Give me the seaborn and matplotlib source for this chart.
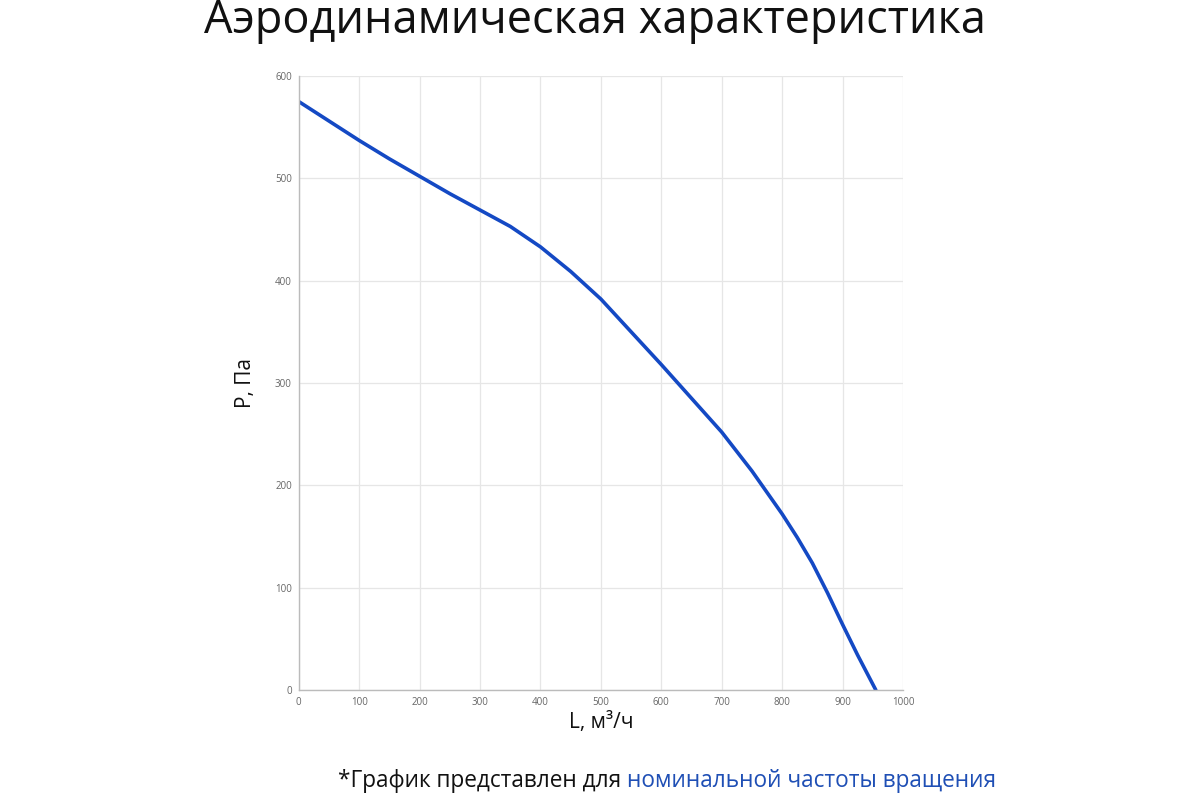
import matplotlib
matplotlib.use("Agg")
import matplotlib.pyplot as plt
import seaborn as sns
import pandas as pd

# ─── Data ────────────────────────────────────────────────────────────────────
flow = [0, 50, 100, 150, 200, 250, 300, 350, 400, 450, 500, 550, 600,
        650, 700, 750, 800, 825, 850, 875, 900, 925, 955]
pressure = [575, 556, 537, 519, 502, 485, 469, 453, 433, 409, 382, 350, 318,
            285, 252, 214, 172, 149, 124, 95, 64, 34, 0]
x_ticks = [0, 100, 200, 300, 400, 500, 600, 700, 800, 900, 1000]
y_ticks = [0, 100, 200, 300, 400, 500, 600]

title = "Аэродинамическая характеристика"
note_plain = "*График представлен для "
note_blue = "номинальной частоты вращения"

LINE = "#1449c4"
NOTE_BLUE = "#1f4fb5"

df = pd.DataFrame({"L": flow, "P": pressure})

sns.set_theme(style="whitegrid")
plt.rcParams["font.family"] = ["Open Sans", "DejaVu Sans"]

fig = plt.figure(figsize=(12, 8), dpi=100)
ax = fig.add_axes([0.249, 0.1375, 0.5035, 0.7675])

sns.lineplot(data=df, x="L", y="P", ax=ax, color=LINE, linewidth=2.6)

ax.set_xlim(0, 1000)
ax.set_ylim(0, 600)
ax.set_xticks(x_ticks)
ax.set_yticks(y_ticks)
ax.tick_params(axis="both", labelsize=7, colors="#666666", length=0, pad=5)
ax.grid(True, color="#e6e6e6", linewidth=0.9)
for side in ["top", "right"]:
    ax.spines[side].set_visible(False)
for side in ["left", "bottom"]:
    ax.spines[side].set_color("#bbbbbb")
    ax.spines[side].set_linewidth(1.0)

ax.set_xlabel("L, м³/ч", fontsize=15, color="#111111", labelpad=3)
ax.set_ylabel("P, Па", fontsize=15, color="#111111", labelpad=14)

fig.text(0.496, 0.959, title, ha="center", va="baseline", fontsize=32.5,
         color="#111111")

# footnote in two colours
fig.canvas.draw()
renderer = fig.canvas.get_renderer()
t1 = fig.text(0, 0.016, note_plain, ha="left", va="baseline", fontsize=16.3,
              color="#111111")
t2 = fig.text(0, 0.016, note_blue, ha="left", va="baseline", fontsize=16.3,
              color=NOTE_BLUE)
w1 = t1.get_window_extent(renderer).width / fig.bbox.width
w2 = t2.get_window_extent(renderer).width / fig.bbox.width
start = 0.556 - (w1 + w2) / 2
t1.set_x(start)
t2.set_x(start + w1)

fig.savefig("out.png", dpi=100)
